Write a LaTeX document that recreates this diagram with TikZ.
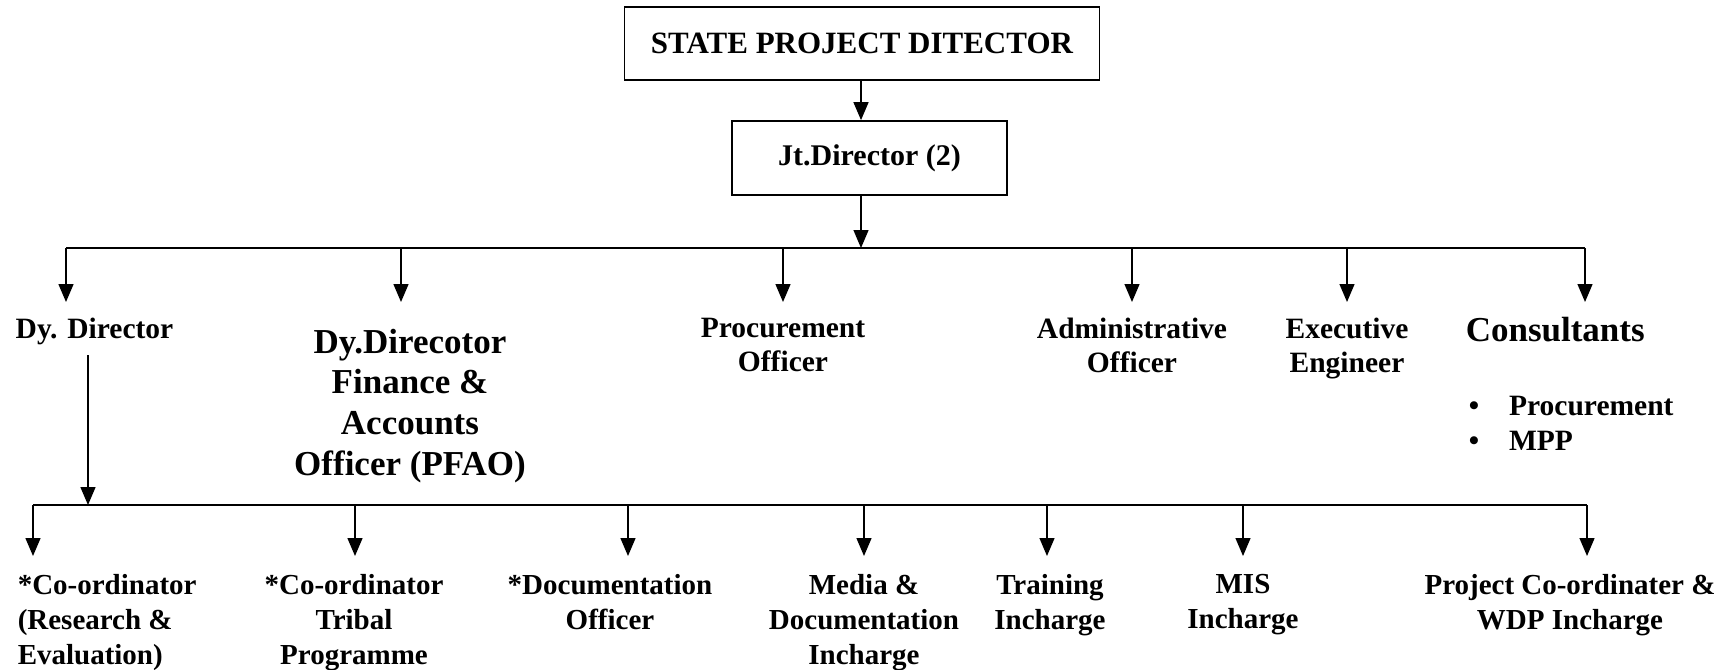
\documentclass[tikz,border=0pt]{standalone}
\usepackage{fontspec}
\setmainfont{Liberation Serif}
\usetikzlibrary{arrows.meta}
\begin{document}
\begin{tikzpicture}[x=1pt,y=-1pt,
  line width=1.5pt,
  arr/.style={-{Triangle[length=18pt,width=15pt]}, line width=1.4pt},
  boxed/.style={draw, line width=1.7pt, inner sep=0pt, align=center},
  lbl/.style={inner sep=0pt, align=center, font=\bfseries\fontsize{29.5}{34}\selectfont},
  lst/.style={inner sep=0pt, align=left, font=\bfseries\fontsize{29.5}{35}\selectfont},
  sub/.style={inner sep=0pt, align=center, font=\bfseries\fontsize{29}{35}\selectfont},
  big/.style={inner sep=0pt, align=center, font=\bfseries\fontsize{35}{40.7}\selectfont}]
\useasboundingbox (0,0) rectangle (1731,669);

% top boxes
\node[boxed, minimum width=475pt, minimum height=73pt,
      font=\bfseries\fontsize{31}{36}\selectfont] (spd) at (862,43.5) {STATE PROJECT DITECTOR};
\node[boxed, minimum width=275pt, minimum height=74pt,
      font=\bfseries\fontsize{30}{36}\selectfont] (jtd) at (869.5,158) {Jt.Director (2)};

% second row
\node[lbl, anchor=north west, align=left] (dyd) at (15,317) {Dy. Director};
\node[big, anchor=north] (dyf) at (410,328) {Dy.Direcotor\\Finance \&\\Accounts\\Officer (PFAO)};
\node[lbl, anchor=north] (proc) at (783,317) {Procurement\\Officer};
\node[lbl, anchor=north] (adm) at (1132,317) {Administrative\\Officer};
\node[lbl, anchor=north] (exe) at (1347,317) {Executive\\Engineer};
\node[big, anchor=north west] (cons) at (1465,316) {Consultants};
\node[lst, anchor=north west] (consl) at (1468,395) {\textbullet\hspace{30pt}Procurement\\\textbullet\hspace{30pt}MPP};

% third row
\node[sub, anchor=north west, align=left] (cre) at (17,574) {*Co-ordinator\\(Research \&\\Evaluation)};
\node[sub, anchor=north] (ctp) at (354,574) {*Co-ordinator\\Tribal\\Programme};
\node[sub, anchor=north] (doc) at (610,574) {*Documentation\\Officer};
\node[sub, anchor=north] (med) at (864,574) {Media \&\\Documentation\\Incharge};
\node[sub, anchor=north] (trn) at (1050,574) {Training\\Incharge};
\node[sub, anchor=north] (mis) at (1243,574) {MIS\\Incharge};
\node[sub, anchor=north] (pcw) at (1570,574) {Project Co-ordinater \&\\WDP Incharge};

% coordinates
\coordinate (ax) at (861,0);
\coordinate (b1w) at (66,248);
\coordinate (b1e) at (1585,248);
\coordinate (b2w) at (33,505);
\coordinate (b2e) at (1587,505);
\coordinate (dstart) at (88,355);
\coordinate (dend) at (88,505);

\coordinate (t-dyd) at (66,302);
\coordinate (t-dyf) at (401,302);
\coordinate (t-proc) at (783,302);
\coordinate (t-adm) at (1132,302);
\coordinate (t-exe) at (1347,302);
\coordinate (t-cons) at (1585,302);

\coordinate (t-cre) at (33,556);
\coordinate (t-ctp) at (355,556);
\coordinate (t-doc) at (628,556);
\coordinate (t-med) at (864,556);
\coordinate (t-trn) at (1047,556);
\coordinate (t-mis) at (1243,556);
\coordinate (t-pcw) at (1587,556);

% connectors
\draw[arr] (spd.south -| ax) -- (jtd.north -| ax);
\draw[arr] (jtd.south -| ax) -- (b1w -| ax);
\draw (b1w) -- (b1e);
\foreach \n in {dyd,dyf,proc,adm,exe,cons}
  \draw[arr] (b1w -| t-\n) -- (t-\n);

\draw[arr] (dstart) -- (dend);
\draw (b2w) -- (b2e);
\foreach \n in {cre,ctp,doc,med,trn,mis,pcw}
  \draw[arr] (b2w -| t-\n) -- (t-\n);
\end{tikzpicture}
\end{document}
